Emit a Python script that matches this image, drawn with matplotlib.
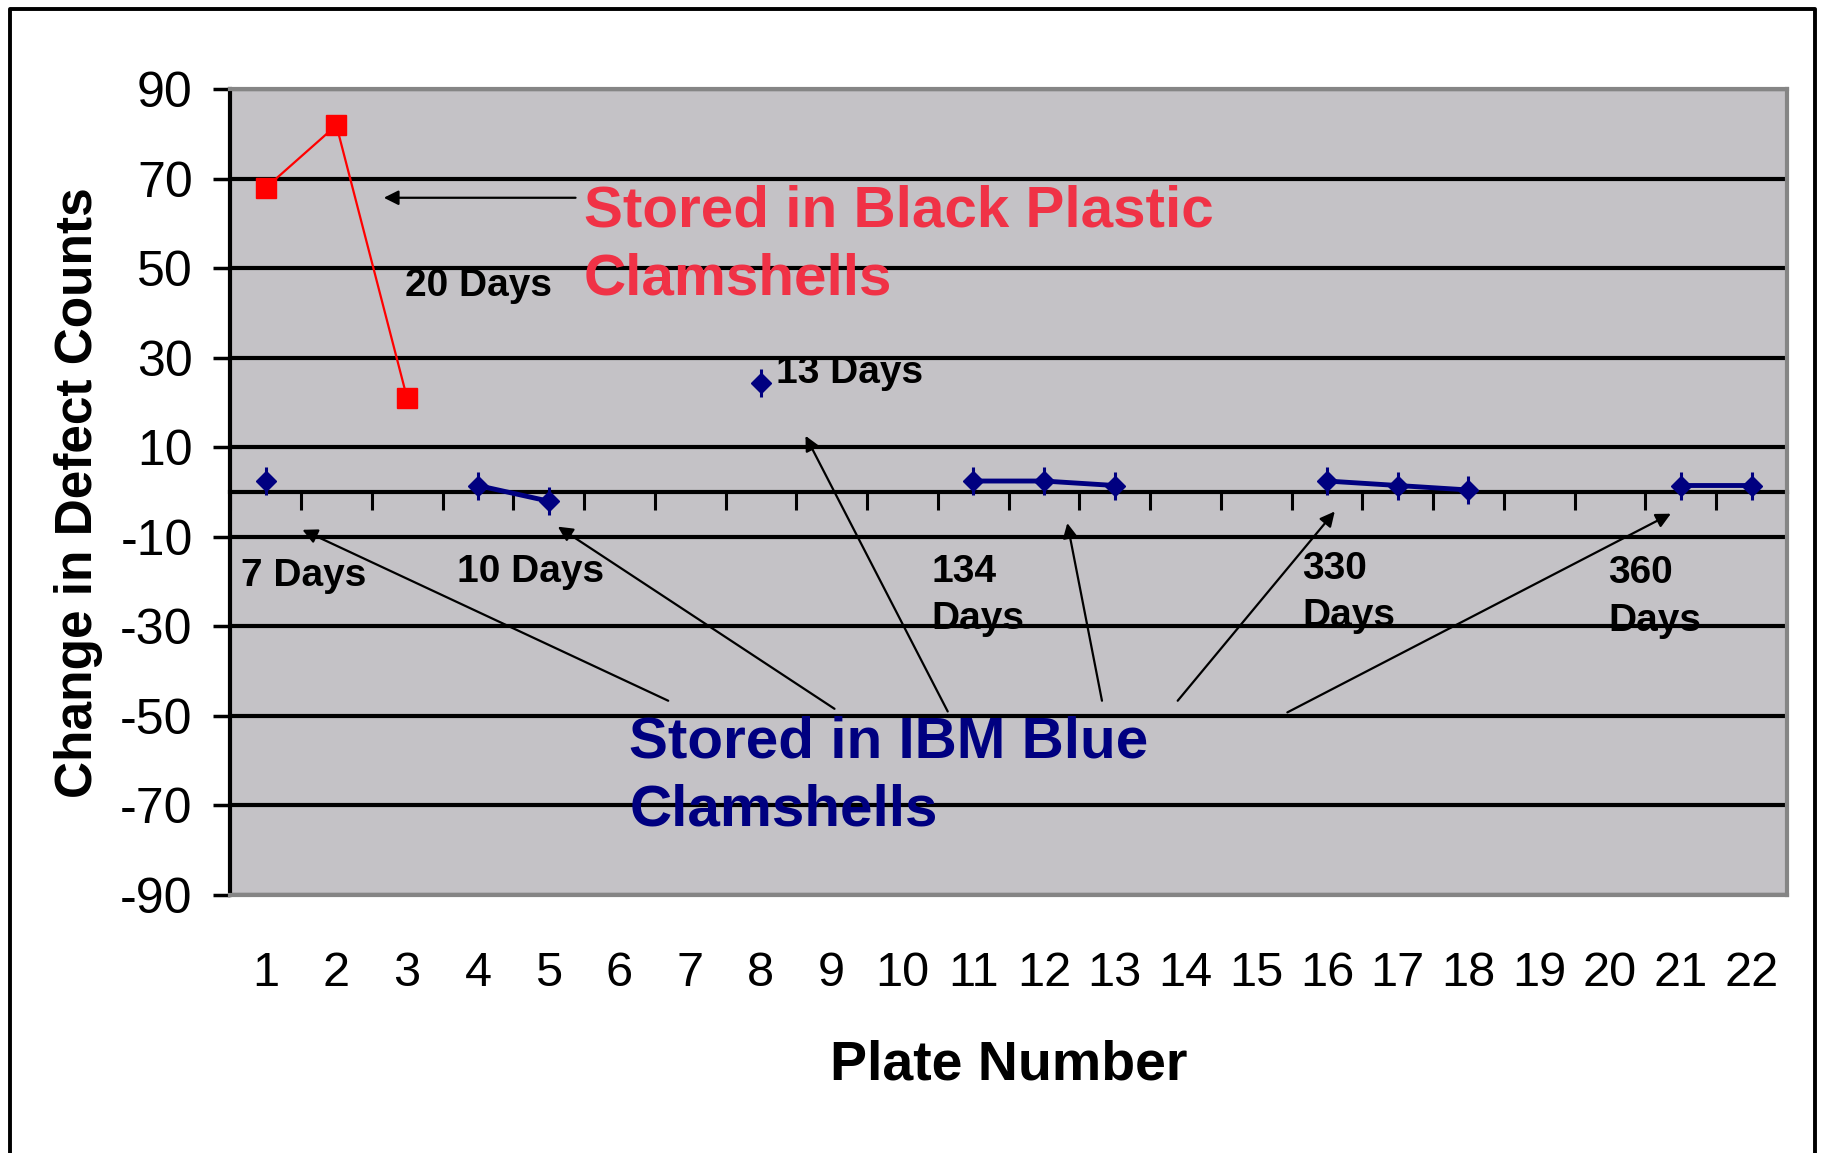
"""
Change in defect counts per plate, by clamshell storage type.
"""

import numpy as np
import matplotlib
matplotlib.use("Agg")
import matplotlib.pyplot as plt
from matplotlib.lines import Line2D

# ---- data -----------------------------------------------------------------
plates = np.arange(1, 23)
black_plates = [1, 2, 3]
black_change = [68, 82, 21]
blue_change = [2.5, np.nan, np.nan, 1.5, -2, np.nan, np.nan, 24.5, np.nan, np.nan,
               2.5, 2.5, 1.5, np.nan, np.nan, 2.5, 1.5, 0.5, np.nan, np.nan, 1.5, 1.5]
y_ticks = np.arange(-90, 91, 20)

# storage-time labels: (text, x, y) in plate / count units
day_labels = [
    ("20 Days", 2.97, 46.0),
    ("13 Days", 8.22, 26.7),
    ("7 Days", 0.65, -18.7),
    ("10 Days", 3.70, -17.9),
    ("134\nDays", 10.41, -23.1),
    ("330\nDays", 15.65, -22.4),
    ("360\nDays", 19.97, -23.4),
]
# pointer arrows: (tail, head)
blue_arrows = [
    ((6.69, -46.6), (1.52, -8.4)),
    ((9.04, -48.4), (5.13, -7.7)),
    ((10.64, -49.0), (8.63, 12.6)),
    ((12.82, -46.6), (12.33, -6.9)),
    ((13.89, -46.6), (16.11, -4.3)),
    ((15.44, -49.2), (20.86, -4.8)),
]
red_arrow = ((5.38, 65.8), (2.67, 65.8))

RED_TXT = "#F03246"
NAVY = "#000080"
NARROW = ["Liberation Sans Narrow", "Liberation Sans"]
BOLD = ["Liberation Sans", "DejaVu Sans"]

fig = plt.figure(figsize=(18.23, 11.53), dpi=100)
ax = fig.add_axes([0.1263, 0.2238, 0.8539, 0.6986])
ax.set_facecolor("#C4C2C6")

# series
ax.plot(black_plates, black_change, color="red", lw=1.6, marker="s",
        markersize=15, markerfacecolor="red", markeredgecolor="red", zorder=4)
ax.plot(plates, blue_change, color=NAVY, lw=3.5, marker="D", markersize=10.5,
        markerfacecolor=NAVY, markeredgecolor=NAVY, zorder=4)
ax.plot(plates, blue_change, ls="none", marker="|", markersize=20,
        markeredgewidth=2.2, color=NAVY, zorder=4)

# axes limits / ticks
ax.set_xlim(0.5, 22.5)
ax.set_ylim(-90, 90)
ax.set_xticks(plates)
ax.set_xticklabels([str(p) for p in plates], family=NARROW, fontsize=35)
ax.set_yticks(y_ticks)
ax.set_yticklabels([str(v) for v in y_ticks], family=NARROW, fontsize=36)
ax.tick_params(axis="x", length=0, pad=40)
ax.tick_params(axis="y", direction="out", length=12, width=2.5, pad=15)
ax.grid(axis="y", color="black", lw=3)
ax.set_axisbelow(True)

for side in ["top", "right", "bottom"]:
    ax.spines[side].set_color("#858585")
    ax.spines[side].set_linewidth(3)
ax.spines["left"].set_color("black")
ax.spines["left"].set_linewidth(3)

# category axis crossing at zero, with ticks between plates
zero_axis = ax.secondary_xaxis(0, transform=ax.transData)
zero_axis.set_xticks(np.arange(0.5, 23, 1))
zero_axis.tick_params(axis="x", direction="out", length=13, width=2.2,
                      labelbottom=False, labeltop=False)
zero_axis.spines["bottom"].set_linewidth(3)
zero_axis.spines["bottom"].set_color("black")

ax.set_xlabel("Plate Number", family=NARROW, fontsize=40, fontweight="bold")
ax.xaxis.set_label_coords(0.5, -0.18)
ax.set_ylabel("Change in Defect Counts", family=BOLD, fontsize=37,
              fontweight="bold")
ax.yaxis.set_label_coords(-0.082, 0.5)

# annotations
ax.text(5.50, 55.2, "Stored in Black Plastic\nClamshells", color=RED_TXT,
        family=BOLD, fontsize=42, fontweight="bold", va="center", ha="left",
        linespacing=1.33)
ax.text(6.14, -63.6, "Stored in IBM Blue\nClamshells", color=NAVY,
        family=BOLD, fontsize=42, fontweight="bold", va="center", ha="left",
        linespacing=1.33)
for txt, x, y in day_labels:
    ax.text(x, y, txt, family=BOLD, fontsize=28, fontweight="bold",
            va="center", ha="left", linespacing=1.4)

arrow_style = dict(arrowstyle="-|>", color="black", lw=1.6,
                   mutation_scale=22, shrinkA=0, shrinkB=0)
for tail, head in blue_arrows + [red_arrow]:
    ax.annotate("", xy=head, xytext=tail, arrowprops=arrow_style)

# outer frame (open at the bottom)
x0, x1, y0, y1 = 0.0055, 0.9955, 0.0, 0.992
fig.add_artist(Line2D([x0, x0, x1, x1], [y0, y1, y1, y0], color="black",
                      lw=2.8, transform=fig.transFigure))

fig.savefig("out.png", dpi=100)
